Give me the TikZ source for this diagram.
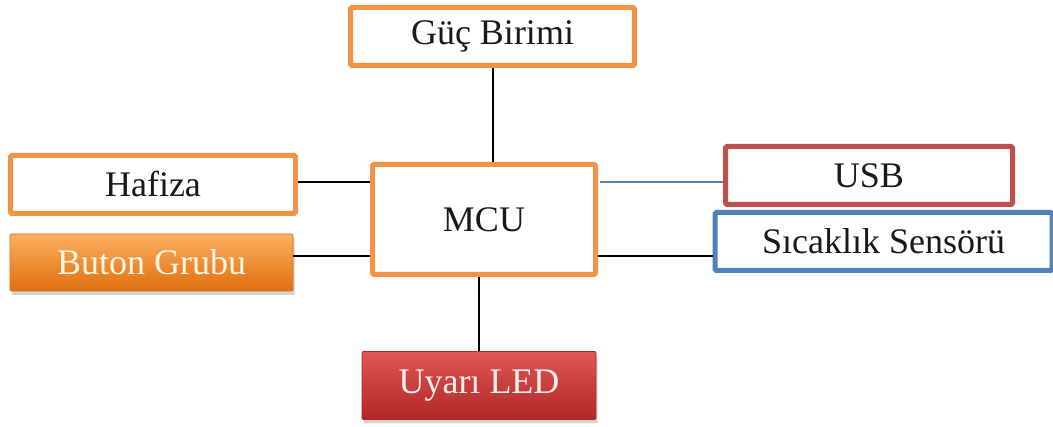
\documentclass[tikz,border=0pt]{standalone}
\usepackage{fontspec}
\setmainfont{Liberation Serif}
\usetikzlibrary{shadows}
\definecolor{boxorange}{RGB}{242,148,70}
\definecolor{boxred}{RGB}{192,80,77}
\definecolor{boxblue}{RGB}{79,129,189}
\definecolor{btntop}{RGB}{250,176,98}
\definecolor{btnmid}{RGB}{245,138,40}
\definecolor{btnbot}{RGB}{224,110,14}
\definecolor{ledtop}{RGB}{222,88,84}
\definecolor{ledmid}{RGB}{204,60,58}
\definecolor{ledbot}{RGB}{176,38,38}
\begin{document}
\begin{tikzpicture}[x=1pt,y=1pt,
  every node/.style={font=\fontsize{36}{42}\selectfont, inner sep=0pt, text=black!90},
  outlinebox/.style={draw=#1, line width=5pt, fill=white, rounded corners=1.5pt},
  bevelbox/.style={drop shadow={opacity=0.35, shadow xshift=1.5pt, shadow yshift=-4pt},
    rounded corners=1pt, draw=#1, line width=0.6pt},
  link/.style={draw=black, line width=2pt},
  usblink/.style={draw=boxblue!85!gray, line width=1.5pt}]
  \useasboundingbox (0,0) rectangle (1053,-427);

  % blocks
  \node[outlinebox=boxorange, minimum width=284, minimum height=58] (guc) at (492.5,-36.5) {Güç Birimi};
  \node[outlinebox=boxorange, minimum width=285, minimum height=58] (hafiza) at (153,-184.5) {Hafiza};
  \node[bevelbox=btnbot, top color=btntop, middle color=btnmid, bottom color=btnbot,
        minimum width=283, minimum height=57, text={rgb,255:red,255;green,246;blue,228}] (buton) at (151.5,-262.5) {Buton Grubu};
  \node[outlinebox=boxorange, minimum width=223, minimum height=110] (mcu) at (484,-219.5) {MCU};
  \node[outlinebox=boxred, minimum width=287, minimum height=58] (usb) at (869,-175.5) {USB};
  \node[outlinebox=boxblue, minimum width=337, minimum height=58] (sensor) at (883.5,-241.5) {Sıcaklık Sensörü};
  \node[bevelbox=ledbot, top color=ledtop, middle color=ledmid, bottom color=ledbot,
        minimum width=234, minimum height=68, text={rgb,255:red,255;green,238;blue,236}] (led) at (479,-385.5) {Uyarı LED};

  % connector heights
  \coordinate (rowA) at (0,-182);
  \coordinate (rowB) at (0,-256);

  % connectors
  \draw[link] (guc.south) -- (guc.south |- mcu.north);
  \draw[link] (hafiza.east |- rowA) -- (mcu.west |- rowA);
  \draw[link] (buton.east |- rowB) -- (mcu.west |- rowB);
  \draw[usblink] ([xshift=2pt]mcu.east |- rowA) -- (usb.west |- rowA);
  \draw[link] (mcu.east |- rowB) -- (sensor.west |- rowB);
  \draw[link] (led.north) -- (led.north |- mcu.south);
\end{tikzpicture}
\end{document}
